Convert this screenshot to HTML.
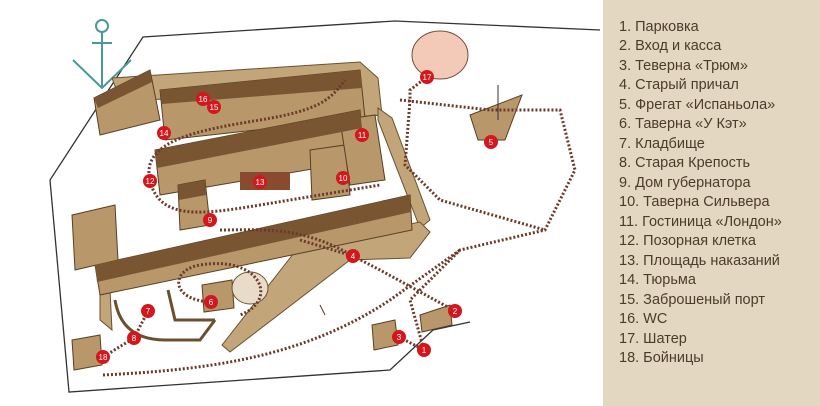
<!DOCTYPE html>
<html><head><meta charset="utf-8"><style>
body{margin:0;width:820px;height:406px;overflow:hidden;background:#fff;font-family:"Liberation Sans",sans-serif}
#leg{position:absolute;left:603px;top:0;width:217px;height:406px;background:#e4d7c1}
#leg div{position:absolute;left:16px;font-size:14.5px;color:#4b3b2b;white-space:nowrap}
svg{position:absolute;left:0;top:0}
</style></head><body>
<svg width="603" height="406" viewBox="0 0 603 406">
<g fill="none" stroke="#333" stroke-width="1.3">
<polyline points="470,322 433,330 390,370 69,392 50,180 143,37 395,21 600,30"/>
</g>
<!-- anchor -->
<g stroke="#4a9a9a" stroke-width="2" fill="none">
<circle cx="102" cy="26" r="6"/><line x1="102" y1="32" x2="102" y2="88"/><line x1="92" y1="43" x2="112" y2="43"/>
<polyline points="73,60 102,88 131,60"/>
</g>
<!-- walls -->
<g fill="#c2a67a" stroke="#6b5030" stroke-width="1">
<polygon points="112,78 360,62 378,78 382,115 345,118 340,96 120,100"/>
<polygon points="378,108 392,118 430,220 420,228 378,120"/>
<polygon points="300,245 420,222 430,232 410,258 350,260 230,352 222,345 290,258"/>
<polygon points="100,280 110,290 112,330 100,320"/>
</g>
<!-- buildings -->
<g fill="#b8976a" stroke="#5a3e22" stroke-width="1">
<polygon points="94,98 150,70 160,120 100,135"/>
<polygon points="160,90 360,70 365,118 165,140"/>
<polygon points="155,150 360,110 365,160 160,195"/>
<polygon points="95,265 410,195 412,230 100,295"/>
<polygon points="72,215 115,205 118,260 75,270"/>
<polygon points="178,185 205,180 210,225 180,230"/>
<polygon points="310,150 345,145 350,195 312,200"/>
<polygon points="340,120 375,115 385,180 350,185"/>
<polygon points="420,315 450,305 452,325 422,332"/>
<polygon points="372,325 395,320 398,345 374,350"/>
<polygon points="72,340 100,335 102,365 74,370"/>
<polygon points="202,285 232,280 234,308 204,312"/>
<polygon points="320,305 325,315"/>
</g>
<g fill="#7a5532">
<polygon points="94,98 150,70 152,82 98,108"/>
<polygon points="160,90 360,70 362,88 162,104"/>
<polygon points="155,150 360,110 362,128 157,168"/>
<polygon points="95,265 410,195 411,212 97,282"/>
<polygon points="178,185 205,180 206,195 179,200"/>
</g>
<ellipse cx="250" cy="288" rx="18" ry="16" fill="#e8dcc8" stroke="#6b5030"/>
<g fill="none" stroke="#6b5030" stroke-width="3"><path d="M115,300 C120,330 140,340 165,340 L200,340 L215,320"/><path d="M168,290 L175,320 L215,320"/></g>
<rect x="240" y="172" width="50" height="18" fill="#8a4a30"/>
<!-- tent -->
<ellipse cx="440" cy="55" rx="28" ry="24" fill="#f3c9b8" stroke="#7a4a3a"/>
<!-- ship -->
<polygon points="470,115 522,95 505,140 478,140" fill="#b8976a" stroke="#5a3e22"/>
<line x1="498" y1="85" x2="498" y2="120" stroke="#333"/>
<!-- dotted paths -->
<g fill="none" stroke="#6b3a2a" stroke-width="3" stroke-dasharray="2,2">
<path d="M150,181 C140,140 200,130 260,120 C320,110 330,100 345,80"/>
<path d="M150,181 C160,220 200,215 260,205 C320,195 350,190 380,185"/>
<path d="M400,100 L490,110 L560,110 L575,170 L545,230 L460,250 L410,300 L424,350"/>
<path d="M410,100 L405,165 L440,200 L545,230"/>
<path d="M427,77 L410,90 L410,100"/>
<path d="M300,240 L353,256 L380,270 L455,311"/>
<path d="M211,302 C170,300 170,270 200,265 C260,255 280,300 240,315"/>
<path d="M148,311 L134,338 L103,357"/>
<path d="M399,337 L424,350"/>
<path d="M220,230 C260,230 300,225 353,256"/>
<path d="M103,375 C200,370 300,360 390,300 L460,250"/>
</g>
<!-- markers -->
<g font-family="Liberation Sans,sans-serif" font-size="8" fill="#fff" text-anchor="middle">
<g fill="#d3171d"><circle cx="424" cy="350" r="7"/><circle cx="455" cy="311" r="7"/><circle cx="399" cy="337" r="7"/><circle cx="353" cy="256" r="7"/><circle cx="491" cy="142" r="7"/><circle cx="211" cy="302" r="7"/><circle cx="148" cy="311" r="7"/><circle cx="134" cy="338" r="7"/><circle cx="210" cy="220" r="7"/><circle cx="343" cy="178" r="7"/><circle cx="362" cy="135" r="7"/><circle cx="150" cy="181" r="7"/><circle cx="260" cy="182" r="7"/><circle cx="164" cy="133" r="7"/><circle cx="214" cy="107" r="7"/><circle cx="203" cy="99" r="7"/><circle cx="427" cy="77" r="7"/><circle cx="103" cy="357" r="7"/></g>
<text x="424" y="353">1</text><text x="455" y="314">2</text><text x="399" y="340">3</text><text x="353" y="259">4</text><text x="491" y="145">5</text><text x="211" y="305">6</text><text x="148" y="314">7</text><text x="134" y="341">8</text><text x="210" y="223">9</text><text x="343" y="181">10</text><text x="362" y="138">11</text><text x="150" y="184">12</text><text x="260" y="185">13</text><text x="164" y="136">14</text><text x="214" y="110">15</text><text x="203" y="102">16</text><text x="427" y="80">17</text><text x="103" y="360">18</text>
</g>
</svg>
<div id="leg">
<div style="top:19px">1. Парковка</div>
<div style="top:38px">2. Вход и касса</div>
<div style="top:58px">3. Теверна «Трюм»</div>
<div style="top:77px">4. Старый причал</div>
<div style="top:97px">5. Фрегат «Испаньола»</div>
<div style="top:116px">6. Таверна «У Кэт»</div>
<div style="top:136px">7. Кладбище</div>
<div style="top:155px">8. Старая Крепость</div>
<div style="top:175px">9. Дом губернатора</div>
<div style="top:194px">10. Таверна Сильвера</div>
<div style="top:214px">11. Гостиница «Лондон»</div>
<div style="top:233px">12. Позорная клетка</div>
<div style="top:253px">13. Площадь наказаний</div>
<div style="top:272px">14. Тюрьма</div>
<div style="top:292px">15. Заброшеный порт</div>
<div style="top:311px">16. WC</div>
<div style="top:331px">17. Шатер</div>
<div style="top:350px">18. Бойницы</div>
</div>
</body></html>
